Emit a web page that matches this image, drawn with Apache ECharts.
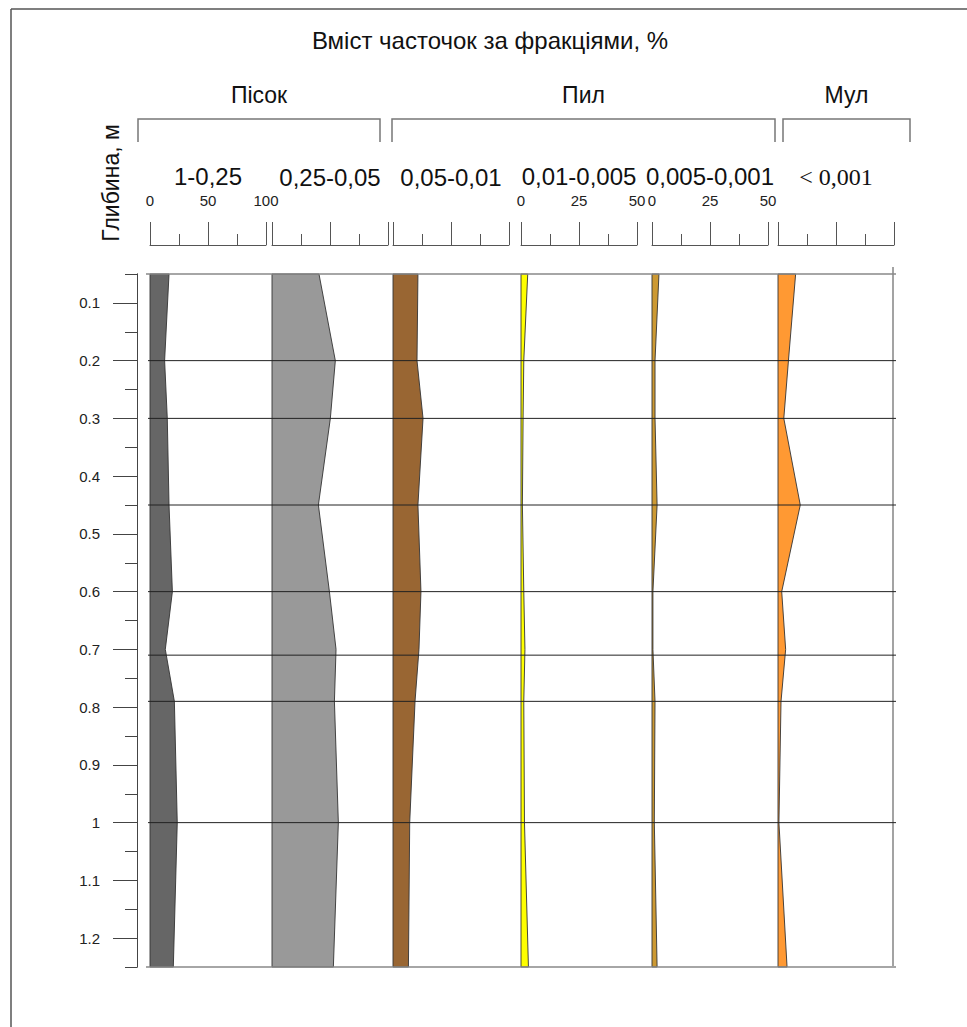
<!DOCTYPE html>
<html>
<head>
<meta charset="utf-8">
<script src="https://cdn.jsdelivr.net/npm/echarts@6/dist/echarts.min.js"></script>
<style>
html,body{margin:0;padding:0;background:#fff;}
#chart{width:967px;height:1027px;}
</style>
</head>
<body>
<div id="chart"></div>
<script>
// ---------- data ----------
const titleText = 'Вміст часточок за фракціями, %';
const depthAxisName = 'Глибина, м';
const groupNames = ['Пісок', 'Пил', 'Мул'];
const fractionNames = ['1-0,25', '0,25-0,05', '0,05-0,01', '0,01-0,005', '0,005-0,001', '< 0,001'];
const depths = [0.05, 0.2, 0.3, 0.45, 0.6, 0.7, 0.79, 1.0, 1.25];
const sandCoarse = [16.4, 12.6, 14.9, 16.4, 19.3, 13.2, 21.0, 23.5, 20.1];   // 1-0,25
const sandFine = [40.5, 54.6, 50.3, 40.0, 49.5, 55.2, 53.8, 57.2, 52.9];     // 0,25-0,05
const siltCoarse = [21.5, 20.7, 25.9, 21.5, 24.1, 22.4, 19.0, 14.4, 13.3];   // 0,05-0,01
const siltMedium = [2.9, 1.2, 0.9, 0.6, 1.2, 1.7, 1.2, 1.5, 3.2];            // 0,01-0,005
const siltFine = [3.0, 1.3, 1.3, 2.2, 0.4, 0.4, 1.3, 1.0, 2.2];              // 0,005-0,001
const clay = [7.6, 4.5, 2.5, 9.6, 1.6, 3.3, 1.3, 0.4, 3.9];                  // < 0,001
const layerBounds = [0.2, 0.3, 0.45, 0.6, 0.71, 0.79, 1.0];
const scaleMax = [100, 100, 100, 50, 50, 50];
const scaleLabelShown = [true, false, false, true, true, false];
const depthLabelTicks = [0.1, 0.2, 0.3, 0.4, 0.5, 0.6, 0.7, 0.8, 0.9, 1.0, 1.1, 1.2];
const depthMinorTicks = [0.05, 0.15, 0.25, 0.35, 0.45, 0.55, 0.65, 0.75, 0.85, 0.95, 1.05, 1.15, 1.25];

// ---------- layout / style ----------
const seriesValues = [sandCoarse, sandFine, siltCoarse, siltMedium, siltFine, clay];
const fills = ['#666666', '#999999', '#996633', '#ffff00', '#cc9933', '#ff9933'];
const panelLeft = [150, 272, 393, 521, 652, 778];
const panelW = 116;
const plotTop = 274, plotH = 693;
const sans = '"Liberation Sans", Arial, sans-serif';
const serif = '"Liberation Serif", "Times New Roman", serif';
const dMin = depths[0], dMax = depths[depths.length - 1];

const grids = [], xAxes = [], yAxes = [], series = [];

seriesValues.forEach((vals, i) => {
  grids.push({left: panelLeft[i], top: plotTop, width: panelW, height: plotH});
  xAxes.push({
    gridIndex: i, type: 'value', position: 'top', offset: 29,
    min: 0, max: scaleMax[i], interval: scaleMax[i] / 2,
    axisLine: {show: true, lineStyle: {color: '#555', width: 1}},
    axisTick: {show: true, length: 23, lineStyle: {color: '#555', width: 1}},
    minorTick: {show: true, splitNumber: 2, length: 11, lineStyle: {color: '#555', width: 1}},
    splitLine: {show: false}, minorSplitLine: {show: false},
    axisLabel: {show: scaleLabelShown[i], margin: 37, fontSize: 15, color: '#222', fontFamily: sans,
      showMinLabel: true, showMaxLabel: true, hideOverlap: false},
    name: fractionNames[i], nameLocation: 'middle', nameGap: 56,
    nameTextStyle: i === 5
      ? {fontSize: 24, color: '#111', fontFamily: serif}
      : {fontSize: 24, color: '#111', fontFamily: sans}
  });
  yAxes.push({gridIndex: i, type: 'value', inverse: true, min: dMin, max: dMax, show: false});
  series.push({
    type: 'custom', name: fractionNames[i], coordinateSystem: 'cartesian2d',
    xAxisIndex: i, yAxisIndex: i, z: 2, silent: true,
    data: depths.map((d, k) => [vals[k], d]),
    renderItem: function (params, api) {
      if (params.dataIndex !== 0) return null;
      const pts = vals.map((v, k) => api.coord([v, depths[k]]));
      pts.push(api.coord([0, dMax]));
      pts.push(api.coord([0, dMin]));
      return {type: 'polygon', shape: {points: pts},
        style: {fill: fills[i], stroke: '#333', lineWidth: 0.9}};
    }
  });
});

// depth axis grid
const depthGrid = grids.length;
grids.push({left: 137, top: plotTop, width: 8, height: plotH});
xAxes.push({gridIndex: depthGrid, type: 'value', show: false, min: 0, max: 1});
const depthAxisBase = {
  gridIndex: depthGrid, type: 'value', position: 'left', inverse: true, min: dMin, max: dMax,
  axisLine: {show: true, lineStyle: {color: '#444', width: 1}},
  splitLine: {show: false}
};
yAxes.push(Object.assign({}, depthAxisBase, {
  axisTick: {show: true, length: 24, customValues: depthLabelTicks, lineStyle: {color: '#444'}},
  axisLabel: {show: true, customValues: depthLabelTicks, margin: 37, fontSize: 15, color: '#222',
    fontFamily: sans, formatter: v => String(+(+v).toFixed(2))}
}));
yAxes.push(Object.assign({}, depthAxisBase, {
  axisTick: {show: true, length: 12, customValues: depthMinorTicks, lineStyle: {color: '#444'}},
  axisLabel: {show: false}
}));

// boundary lines grid
const lineGrid = grids.length;
grids.push({left: 148, top: plotTop, width: 748, height: plotH});
const lineX = xAxes.length;
xAxes.push({gridIndex: lineGrid, type: 'value', show: false, min: 0, max: 1});
const lineY = yAxes.length;
yAxes.push({gridIndex: lineGrid, type: 'value', inverse: true, min: dMin, max: dMax, show: false});
const edgeLines = [dMin, dMax];
series.push({
  type: 'custom', coordinateSystem: 'cartesian2d', xAxisIndex: lineX, yAxisIndex: lineY, z: 5, silent: true,
  data: layerBounds.map(d => [0, d]).concat(edgeLines.map(d => [1, d])),
  renderItem: function (params, api) {
    const d = api.value(1);
    const edge = api.value(0) === 1;
    const a = api.coord([0, d]), b = api.coord([1, d]);
    return {type: 'line', shape: {x1: a[0] - (edge ? 2 : 0), y1: a[1], x2: b[0], y2: b[1]},
      style: {stroke: edge ? '#888' : '#222', lineWidth: edge ? 1.5 : 1}};
  }
});

// ---------- header decorations ----------
const brackets = [[138, 380], [392, 775], [783, 910]];
const graphic = [
  {type: 'line', shape: {x1: 11, y1: 9, x2: 967, y2: 9}, style: {stroke: '#555', lineWidth: 1.5}},
  {type: 'line', shape: {x1: 11, y1: 9, x2: 11, y2: 1027}, style: {stroke: '#555', lineWidth: 1.5}},
  {type: 'text', x: 490, y: 40, style: {text: titleText, font: '24px ' + sans, fill: '#111',
    textAlign: 'center', textVerticalAlign: 'middle'}},
  {type: 'text', x: 111, y: 183, rotation: Math.PI / 2, style: {text: depthAxisName, font: '23px ' + sans,
    fill: '#111', textAlign: 'center', textVerticalAlign: 'middle'}},
  {type: 'line', shape: {x1: 893, y1: 267, x2: 893, y2: 966}, style: {stroke: '#666', lineWidth: 1.2}}
];
brackets.forEach((b, k) => {
  graphic.push({type: 'polyline', shape: {points: [[b[0], 142], [b[0], 119], [b[1], 119], [b[1], 142]]},
    style: {stroke: '#777', lineWidth: 1.5, fill: null}});
  graphic.push({type: 'text', x: (b[0] + b[1]) / 2, y: 95, style: {text: groupNames[k], font: '23px ' + sans,
    fill: '#111', textAlign: 'center', textVerticalAlign: 'middle'}});
});

const chart = echarts.init(document.getElementById('chart'), null, {renderer: 'svg'});
chart.setOption({
  animation: false,
  backgroundColor: '#fff',
  grid: grids, xAxis: xAxes, yAxis: yAxes, series: series, graphic: graphic
});
</script>
</body>
</html>
